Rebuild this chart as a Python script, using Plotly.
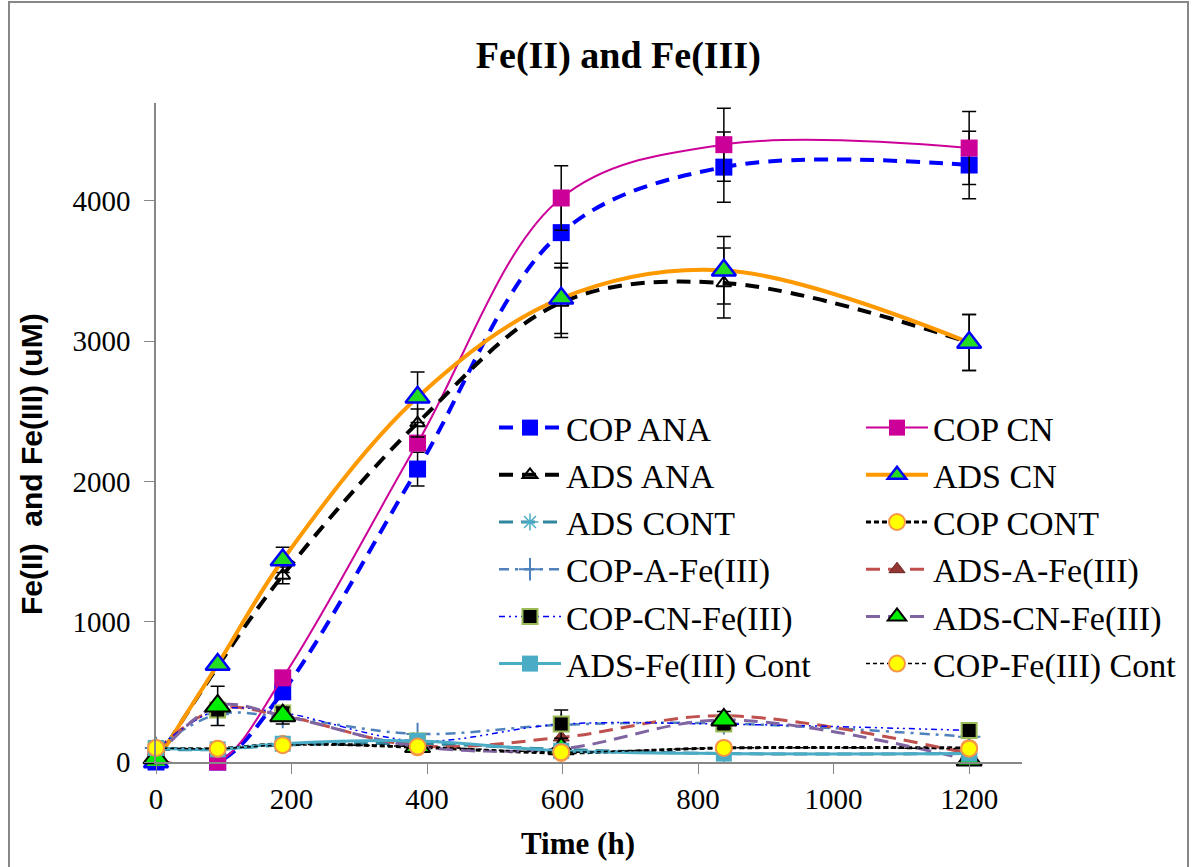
import plotly.graph_objects as go

time_h = [0, 91, 187, 386, 598, 838, 1200]

cop_ana = [0, 0, 500, 2088, 3773, 4240, 4255]
cop_ana_err = [0, 0, 0, 120, 250, 250, 240]
cop_cn = [20, 0, 600, 2273, 4020, 4400, 4376]
cop_cn_err = [0, 0, 0, 0, 230, 260, 260]
ads_ana = [0, 680, 1330, 2416, 3275, 3414, 2990]
ads_ana_err = [0, 0, 60, 100, 250, 250, 200]
ads_cn = [0, 695, 1440, 2600, 3305, 3505, 2990]
ads_cn_err = [0, 20, 90, 180, 250, 240, 200]
ads_cont = [90, 90, 120, 130, 90, 60, 60]
cop_cont = [100, 95, 130, 105, 65, 100, 100]
cop_a_fe3 = [100, 340, 320, 200, 265, 275, 180]
ads_a_fe3 = [80, 380, 330, 115, 175, 330, 60]
cop_cn_fe3 = [90, 370, 350, 150, 270, 270, 225]
cop_cn_fe3_err = [0, 0, 0, 0, 100, 0, 30]
ads_cn_fe3 = [30, 400, 330, 110, 95, 300, 15]
ads_cn_fe3_err = [0, 140, 60, 0, 0, 60, 0]
ads_fe3_cont = [100, 90, 130, 150, 80, 60, 60]
cop_fe3_cont = [100, 95, 120, 110, 70, 100, 95]

x_ticks = [0, 200, 400, 600, 800, 1000, 1200]
y_ticks = [0, 1000, 2000, 3000, 4000]

fig = go.Figure()


def add(name, y, line, marker, legend, err=None):
    kw = {}
    if err is not None:
        kw["error_y"] = dict(type="data", array=err, visible=True, color="black",
                             thickness=1.5, width=7)
    fig.add_trace(go.Scatter(x=time_h, y=y, name=name, mode="lines+markers",
                             line=dict(shape="spline", smoothing=1.0, **line),
                             marker=marker, cliponaxis=False, legend=legend, **kw))


add("COP ANA", cop_ana, dict(color="#0000FF", width=4, dash="14px,9px"),
    dict(symbol="square", size=17, color="#0000FF", line=dict(width=0)), "legend", cop_ana_err)
add("COP CN", cop_cn, dict(color="#CC0099", width=2),
    dict(symbol="square", size=17, color="#CC0099", line=dict(width=0)), "legend2", cop_cn_err)
add("ADS ANA", ads_ana, dict(color="black", width=4, dash="14px,9px"),
    dict(symbol="triangle-up-open", size=13, color="black", line=dict(width=2)), "legend", ads_ana_err)
add("ADS CN", ads_cn, dict(color="#FF9900", width=4),
    dict(symbol="triangle-up", size=21, color="#22DD22", line=dict(color="#0000FF", width=2.5)),
    "legend2", ads_cn_err)
add("ADS CONT", ads_cont, dict(color="#31859C", width=3, dash="14px,8px"),
    dict(symbol="asterisk-open", size=14, color="#4BACC6", line=dict(color="#4BACC6", width=1.5)),
    "legend")
add("COP CONT", cop_cont, dict(color="black", width=3, dash="5px,3px"),
    dict(symbol="circle", size=16, color="#FFFF00", line=dict(color="#F79646", width=2)), "legend2")
add("COP-A-Fe(III)", cop_a_fe3, dict(color="#4F81BD", width=2.5, dash="10px,6px,3px,6px"),
    dict(symbol="cross-thin-open", size=16, color="#4F81BD", line=dict(color="#4F81BD", width=2)),
    "legend")
add("ADS-A-Fe(III)", ads_a_fe3, dict(color="#C0504D", width=3, dash="14px,8px"),
    dict(symbol="triangle-up", size=14, color="#943634", line=dict(color="#632523", width=1)),
    "legend2")
add("COP-CN-Fe(III)", cop_cn_fe3, dict(color="#0000FF", width=1.5, dash="6px,4px,2px,4px,2px,4px"),
    dict(symbol="square", size=15, color="black", line=dict(color="#9BBB59", width=2)), "legend",
    cop_cn_fe3_err)
add("ADS-CN-Fe(III)", ads_cn_fe3, dict(color="#8064A2", width=3, dash="14px,8px"),
    dict(symbol="triangle-up", size=22, color="#00EE00", line=dict(color="black", width=2)), "legend2",
    ads_cn_fe3_err)
add("ADS-Fe(III) Cont", ads_fe3_cont, dict(color="#4BACC6", width=3),
    dict(symbol="square", size=16, color="#4BACC6", line=dict(width=0)), "legend")
add("COP-Fe(III) Cont", cop_fe3_cont, dict(color="black", width=1.5, dash="4px,3px"),
    dict(symbol="circle", size=16, color="#FFFF00", line=dict(color="#F79646", width=2)), "legend2")

L, R, T, B = 156, 174, 103, 105
W, H = 1196, 867
pw, ph = W - L - R, H - T - B


def px_x(p):
    return (p - L) / pw


def px_y(p):
    return (H - B - p) / ph


serif = "Liberation Serif, Times New Roman, serif"
leg_common = dict(font=dict(family=serif, size=34, color="black"), itemwidth=62,
                  bgcolor="rgba(0,0,0,0)", traceorder="normal", itemsizing="trace",
                  xanchor="left", yanchor="top", orientation="v")

fig.update_layout(
    width=W, height=H,
    margin=dict(l=L, r=R, t=T, b=B),
    paper_bgcolor="white", plot_bgcolor="white",
    showlegend=True,
    title=dict(text="<b>Fe(II) and Fe(III)</b>", x=0.517, xanchor="center",
               y=1 - 55 / H, yanchor="middle",
               font=dict(family=serif, size=38, color="black")),
    legend=dict(x=px_x(494), y=px_y(399), **leg_common),
    legend2=dict(x=px_x(861), y=px_y(399), **leg_common),
    xaxis=dict(range=[0, 1278], tickvals=x_ticks, ticktext=[str(v) for v in x_ticks],
               showgrid=False, zeroline=False, showline=True, linecolor="#878787",
               linewidth=1.5, ticks="outside", ticklen=10, tickcolor="#878787",
               tickfont=dict(family=serif, size=29, color="black")),
    yaxis=dict(range=[0, 4697], tickvals=y_ticks, ticktext=[str(v) for v in y_ticks],
               showgrid=False, zeroline=False, showline=True, linecolor="#878787",
               linewidth=1.5, ticks="outside", ticklen=10, tickcolor="#878787",
               ticklabelstandoff=8,
               tickfont=dict(family=serif, size=29, color="black")),
    annotations=[
        dict(text="<b>Time (h)</b>", xref="paper", yref="paper", x=px_x(578), y=px_y(843),
             xanchor="center", yanchor="middle", showarrow=False,
             font=dict(family=serif, size=31, color="black")),
        dict(text="<b>Fe(II)  and Fe(III) (uM)</b>", xref="paper", yref="paper",
             x=px_x(31), y=px_y(464), xanchor="center", yanchor="middle", textangle=-90,
             showarrow=False,
             font=dict(family="Liberation Sans, Arial, sans-serif", size=30, color="black")),
    ],
    shapes=[dict(type="rect", xref="paper", yref="paper",
                 x0=px_x(9), x1=px_x(1188), y0=px_y(880), y1=px_y(2),
                 line=dict(color="#878787", width=2), fillcolor="rgba(0,0,0,0)",
                 layer="below")],
)

fig.write_html("out.html")
